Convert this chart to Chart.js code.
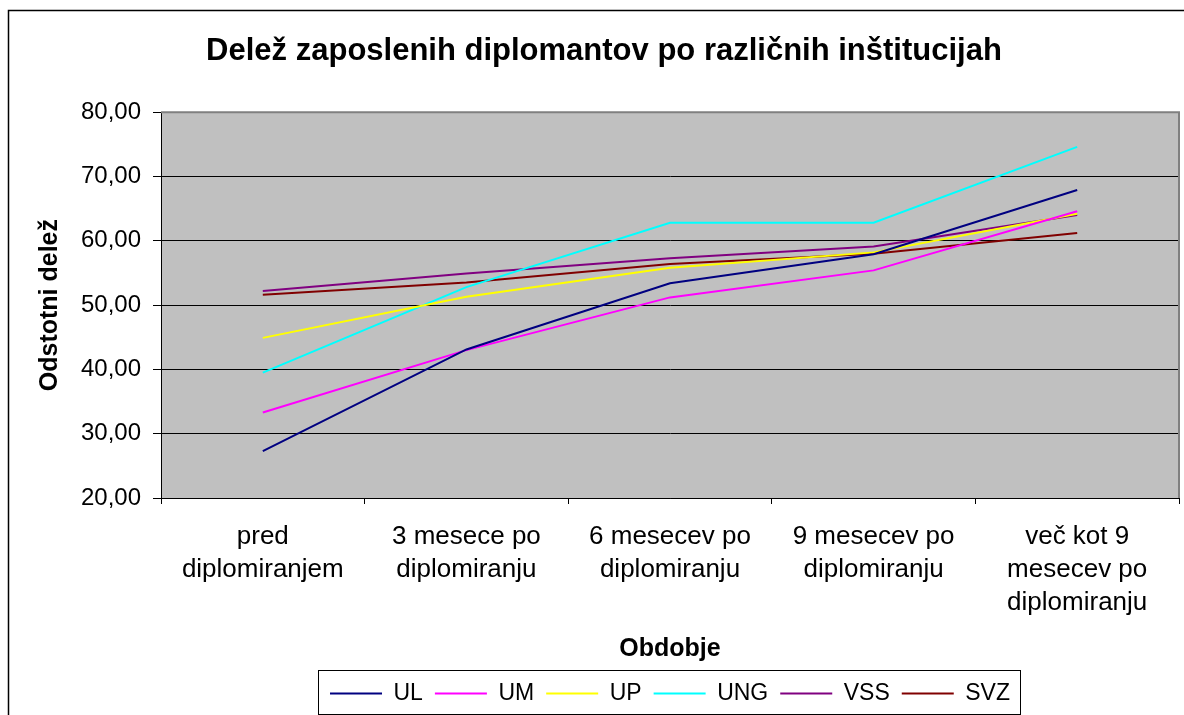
<!DOCTYPE html>
<html>
<head>
<meta charset="utf-8">
<script src="https://cdn.jsdelivr.net/npm/chart.js@4.4.0/dist/chart.umd.min.js"></script>
<style>
html,body{margin:0;padding:0;background:#fff;}
</style>
</head>
<body>
<canvas id="c" width="1184" height="715"></canvas>
<script>
// categories and series
var categories = [
  ['pred', 'diplomiranjem'],
  ['3 mesece po', 'diplomiranju'],
  ['6 mesecev po', 'diplomiranju'],
  ['9 mesecev po', 'diplomiranju'],
  ['več kot 9', 'mesecev po', 'diplomiranju']
];
var UL  = [27.3, 43.1, 53.4, 57.9, 67.9];
var UM  = [33.3, 43.0, 51.2, 55.4, 64.6];
var UP  = [44.9, 51.3, 55.8, 58.2, 64.2];
var UNG = [39.5, 52.8, 62.8, 62.8, 74.6];
var VSS = [52.2, 54.9, 57.3, 59.1, 64.0];
var SVZ = [51.6, 53.5, 56.4, 58.0, 61.2];
var seriesNames  = ['UL', 'UM', 'UP', 'UNG', 'VSS', 'SVZ'];
var seriesValues = [UL, UM, UP, UNG, VSS, SVZ];
var seriesColors = ['#000080', '#ff00ff', '#ffff00', '#00ffff', '#800080', '#800000'];
var yMin = 20, yMax = 80, yStep = 10;

var FONT = '"Liberation Sans", Arial, sans-serif';

var datasets = [];
for (var i = 0; i < seriesNames.length; i++) {
  datasets.push({
    label: seriesNames[i],
    data: seriesValues[i],
    borderColor: seriesColors[i],
    backgroundColor: seriesColors[i],
    borderWidth: 2,
    pointRadius: 0,
    tension: 0,
    fill: false
  });
}

var excelLook = {
  id: 'excelLook',
  beforeDraw: function(chart) {
    var ctx = chart.ctx, a = chart.chartArea;
    ctx.save();
    ctx.fillStyle = '#fff';
    ctx.fillRect(0, 0, chart.width, chart.height);
    // outer chart frame
    ctx.strokeStyle = '#000';
    ctx.lineWidth = 1.5;
    ctx.strokeRect(8.5, 10.5, chart.width + 10, chart.height + 10);
    // plot area
    ctx.fillStyle = '#c0c0c0';
    ctx.fillRect(a.left, a.top, a.right - a.left, a.bottom - a.top);
    ctx.restore();
  },
  afterDatasetsDraw: function(chart) {
    var ctx = chart.ctx, a = chart.chartArea;
    ctx.save();
    ctx.strokeStyle = '#808080';
    ctx.lineWidth = 2;
    ctx.beginPath();
    ctx.moveTo(a.left, a.top);
    ctx.lineTo(a.right, a.top);
    ctx.lineTo(a.right, a.bottom);
    ctx.stroke();
    ctx.restore();
  },
  afterDraw: function(chart) {
    var lg = chart.legend;
    if (!lg || !lg.legendHitBoxes.length) return;
    var hb = lg.legendHitBoxes;
    var l = hb[0].left, r = hb[hb.length - 1].left + hb[hb.length - 1].width;
    var ctx = chart.ctx;
    ctx.save();
    ctx.strokeStyle = '#000';
    ctx.lineWidth = 1;
    ctx.strokeRect(Math.round(l - 12) + 0.5, Math.round(lg.top) + 0.5, Math.round(r - l + 22), Math.round(lg.bottom - lg.top) - 1);
    ctx.restore();
  }
};

new Chart(document.getElementById('c'), {
  type: 'line',
  data: {
    labels: categories,
    datasets: datasets
  },
  options: {
    responsive: false,
    animation: false,
    devicePixelRatio: 1,
    layout: {padding: {left: 29, right: 5, top: 10, bottom: 0}},
    plugins: {
      title: {
        display: true,
        text: 'Delež zaposlenih diplomantov po različnih inštitucijah',
        color: '#000',
        font: {family: FONT, size: 31, weight: 'bold', lineHeight: 1.2},
        padding: {top: 23, bottom: 42}
      },
      legend: {
        position: 'bottom',
        fullSize: false,
        labels: {
          color: '#000',
          font: {family: FONT, size: 23},
          usePointStyle: true,
          pointStyle: 'line',
          pointStyleWidth: 52,
          boxHeight: 10,
          padding: 12
        }
      },
      tooltip: {enabled: false}
    },
    scales: {
      x: {
        offset: true,
        afterFit: function(s) { s.height = 172; },
        grid: {display: true, offset: true, drawOnChartArea: false, color: '#000', tickLength: 6},
        border: {color: '#000', width: 1},
        ticks: {
          color: '#000', maxRotation: 0, autoSkip: false, padding: 16,
          font: {family: FONT, size: 26, lineHeight: 1.27}
        },
        title: {
          display: true, text: 'Obdobje', color: '#000',
          font: {family: FONT, size: 25, weight: 'bold', lineHeight: 1.2},
          padding: {top: 0, bottom: 6}
        }
      },
      y: {
        min: yMin, max: yMax,
        afterFit: function(s) { s.width = 132; },
        grid: {color: '#000', tickLength: 8},
        border: {color: '#000', width: 1},
        ticks: {
          stepSize: yStep, color: '#000', padding: 12,
          font: {family: FONT, size: 24},
          callback: function(v) { return v.toFixed(2).replace('.', ','); }
        },
        title: {
          display: true, text: 'Odstotni delež', color: '#000',
          font: {family: FONT, size: 25, weight: 'bold', lineHeight: 1.2},
          padding: {top: 6, bottom: 0}
        }
      }
    }
  },
  plugins: [excelLook]
});
</script>
</body>
</html>
